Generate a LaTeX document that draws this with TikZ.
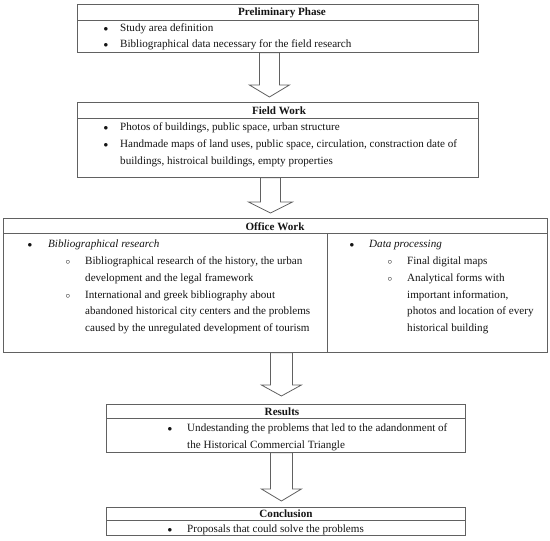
\documentclass[tikz,border=0pt]{standalone}
\usepackage{fontspec}
\setmainfont{Liberation Serif}
\usetikzlibrary{calc}
\definecolor{linecol}{gray}{0.38}
\definecolor{txtcol}{gray}{0.08}
\newcommand{\blkarrow}[7]{%
  \coordinate (baA) at ($(#1.south)+(#3,0)$);
  \coordinate (baT) at ($(#2.north)+(0,-#7)$);
  \coordinate (baB) at (baA |- baT);
  \draw[boxline] ($(baA)+(-#4,0)$) -- ($(baA)+(#4,0)$) -- ($(baB)+(#4,-#6)$) -- ($(baB)+(#5,-#6)$) -- (baB) -- ($(baB)+(-#5,-#6)$) -- ($(baB)+(-#4,-#6)$) -- cycle;}
\newcommand{\fsz}{\fontsize{11.1bp}{16.7bp}\selectfont}
\newcommand{\mlines}[1]{\begin{tabular}[t]{@{}l@{}}#1\end{tabular}}
\begin{document}
\begin{tikzpicture}[x=1bp,y=-1bp,
  boxline/.style={draw=linecol, line width=0.8bp, line join=miter},
  box/.style={boxline, anchor=north west, inner sep=0, rectangle},
  ttl/.style={anchor=base, inner sep=0, text=txtcol, font=\fsz\bfseries},
  txt/.style={anchor=base west, inner sep=0, text=txtcol, font=\fsz},
  itx/.style={txt, font=\fsz\itshape},
  bul/.style={anchor=base, inner sep=0, text=txtcol, font=\fontsize{8.5bp}{10bp}\selectfont}]
\useasboundingbox (0,0) rectangle (550,541);
% boxes
\node[box, minimum width=401bp, minimum height=48bp] (pre) at (77,4) {};
\node[box, minimum width=401bp, minimum height=75bp] (field) at (77,102) {};
\node[box, minimum width=544bp, minimum height=134bp] (office) at (3,218) {};
\node[box, minimum width=359bp, minimum height=48bp] (res) at (106,404) {};
\node[box, minimum width=359bp, minimum height=28bp] (con) at (106,507) {};
% separators
\coordinate (preS) at (77,20);   \draw[boxline] (preS) -- (preS -| pre.east);
\coordinate (fieldS) at (77,118); \draw[boxline] (fieldS) -- (fieldS -| field.east);
\coordinate (offS) at (3,233);   \draw[boxline] (offS) -- (offS -| office.east);
\coordinate (offD) at (327,233); \draw[boxline] (offD) -- (offD |- office.south);
\coordinate (resS) at (106,418); \draw[boxline] (resS) -- (resS -| res.east);
\coordinate (conS) at (106,520); \draw[boxline] (conS) -- (conS -| con.east);
% titles
\node[ttl] (preT) at (282,16) {Preliminary Phase};
\node[ttl] (fieldT) at (279,114.5) {Field Work};
\node[ttl] (offT) at (275,230) {Office Work};
\node[ttl] (resT) at (282,415) {Results};
\node[ttl] (conT) at (286,517.5) {Conclusion};
% preliminary items
\node[bul] (pb1) at (106,31.5) {$\bullet$};
\node[txt] (pi1) at (120,31.5) {Study area definition};
\node[bul] (pb2) at (106,48) {$\bullet$};
\node[txt] (pi2) at (120,48) {Bibliographical data necessary for the field research};
% field items
\node[bul] (fb1) at (106,131) {$\bullet$};
\node[txt] (fi1) at (120,131) {Photos of buildings, public space, urban structure};
\node[bul] (fb2) at (106,147.5) {$\bullet$};
\node[txt] (fi2) at (120,147.5) {\mlines{Handmade maps of land uses, public space, circulation, constraction date of\\buildings, histroical buildings, empty properties}};
% office left
\node[bul] (ob1) at (30,247) {$\bullet$};
\node[itx] (oi1) at (48,247) {Bibliographical research};
\node[bul] (oc1) at (68,264.5) {$\circ$};
\node[txt] (oj1) at (85,264.5) {\mlines{Bibliographical research of the history, the urban\\development and the legal framework}};
\node[bul] (oc2) at (68,298) {$\circ$};
\node[txt] (oj2) at (85,298) {\mlines{International and greek bibliography about\\abandoned historical city centers and the problems\\caused by the unregulated development of tourism}};
% office right
\node[bul] (ob2) at (352,247) {$\bullet$};
\node[itx] (oi2) at (369,247) {Data processing};
\node[bul] (oc3) at (390,264.5) {$\circ$};
\node[txt] (oj3) at (407,264.5) {Final digital maps};
\node[bul] (oc4) at (390,281.5) {$\circ$};
\node[txt] (oj4) at (407,281.5) {\mlines{Analytical forms with\\important information,\\photos and location of every\\historical building}};
% results
\node[bul] (rb1) at (170,431.5) {$\bullet$};
\node[txt] (ri1) at (187,431.5) {\mlines{Undestanding the problems that led to the adandonment of\\the Historical Commercial Triangle}};
% conclusion
\node[bul] (cb1) at (170,532) {$\bullet$};
\node[txt] (ci1) at (187,532) {Proposals that could solve the problems};
% arrows
\blkarrow{pre}{field}{-8.5}{10}{20}{12}{5}
\blkarrow{field}{office}{-7.5}{10}{22}{11}{5}
\blkarrow{office}{res}{6}{11}{20}{11}{8}
\blkarrow{res}{con}{-4.5}{11}{20}{12}{6}
\end{tikzpicture}
\end{document}
